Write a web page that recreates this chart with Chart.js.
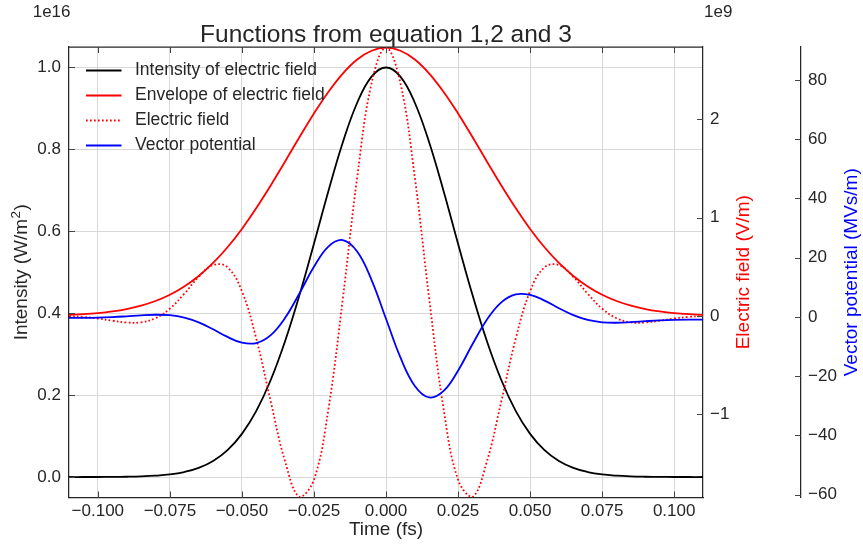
<!DOCTYPE html>
<html>
<head>
<meta charset="utf-8">
<style>
  html, body { margin: 0; padding: 0; background: #ffffff; }
  canvas { display: block; }
</style>
<script src="https://cdn.jsdelivr.net/npm/chart.js@4.4.1/dist/chart.umd.min.js"></script>
</head>
<body>
<canvas id="c" width="863" height="545"></canvas>
<script>
// ---------------- data ----------------
const time = [-0.110, -0.105, -0.100, -0.095, -0.090, -0.085, -0.080, -0.075, -0.070, -0.065,
              -0.060, -0.055, -0.050, -0.045, -0.040, -0.035, -0.030, -0.025, -0.020, -0.015,
              -0.010, -0.005, 0.000, 0.005, 0.010, 0.015, 0.020, 0.025, 0.030, 0.035,
              0.040, 0.045, 0.050, 0.055, 0.060, 0.065, 0.070, 0.075, 0.080, 0.085,
              0.090, 0.095, 0.100, 0.105, 0.110];

// Intensity, units of 1e16 W/m^2
const intensity = [0.0000, 0.0000, 0.0001, 0.0003, 0.0007, 0.0015, 0.0032, 0.0063, 0.0122, 0.0223,
                   0.0392, 0.0657, 0.1054, 0.1616, 0.2369, 0.3321, 0.4449, 0.5698, 0.6977, 0.8167,
                   0.9139, 0.9778, 1.0000, 0.9778, 0.9139, 0.8167, 0.6977, 0.5698, 0.4449, 0.3321,
                   0.2369, 0.1616, 0.1054, 0.0657, 0.0392, 0.0223, 0.0122, 0.0063, 0.0032, 0.0015,
                   0.0007, 0.0003, 0.0001, 0.0000, 0.0000];

// Envelope of electric field, units of 1e9 V/m
const envelope = [0.012, 0.019, 0.030, 0.047, 0.071, 0.106, 0.153, 0.217, 0.301, 0.408,
                  0.540, 0.700, 0.886, 1.098, 1.329, 1.573, 1.821, 2.061, 2.280, 2.467,
                  2.610, 2.699, 2.730, 2.699, 2.610, 2.467, 2.280, 2.061, 1.821, 1.573,
                  1.329, 1.098, 0.886, 0.700, 0.540, 0.408, 0.301, 0.217, 0.153, 0.106,
                  0.071, 0.047, 0.030, 0.019, 0.012];

// Electric field, units of 1e9 V/m
const efield = [0.000, -0.009, -0.025, -0.047, -0.065, -0.064, -0.022, 0.075, 0.227, 0.398,
                0.519, 0.496, 0.252, -0.231, -0.869, -1.480, -1.840, -1.665, -0.949, 0.174,
                1.410, 2.369, 2.730, 2.369, 1.410, 0.174, -0.949, -1.665, -1.840, -1.480,
                -0.869, -0.231, 0.252, 0.496, 0.519, 0.398, 0.227, 0.075, -0.022, -0.064,
                -0.065, -0.047, -0.025, -0.009, 0.000];

// Vector potential, MVs/m
const vpot = [-0.37, -0.36, -0.28, -0.10, 0.18, 0.50, 0.70, 0.54, -0.25, -1.86,
              -4.20, -6.79, -8.73, -8.86, -6.18, -0.33, 7.98, 16.88, 23.72, 25.91,
              22.03, 12.42, -0.65, -13.72, -23.33, -27.21, -25.02, -18.18, -9.28, -0.97,
              4.88, 7.56, 7.43, 5.49, 2.90, 0.56, -1.05, -1.84, -2.00, -1.80,
              -1.48, -1.20, -1.02, -0.94, -0.93];

// ticks
const xTicks = [-0.100, -0.075, -0.050, -0.025, 0.000, 0.025, 0.050, 0.075, 0.100];
const xTickLabels = ['\u22120.100', '\u22120.075', '\u22120.050', '\u22120.025', '0.000', '0.025', '0.050', '0.075', '0.100'];
const yTicks = [0.0, 0.2, 0.4, 0.6, 0.8, 1.0];
const yTickLabels = ['0.0', '0.2', '0.4', '0.6', '0.8', '1.0'];
const eTicks = [-1, 0, 1, 2];
const eTickLabels = ['\u22121', '0', '1', '2'];
const aTicks = [-60, -40, -20, 0, 20, 40, 60, 80];
const aTickLabels = ['\u221260', '\u221240', '\u221220', '0', '20', '40', '60', '80'];

const seriesLabels = ['Intensity of electric field', 'Envelope of electric field', 'Electric field', 'Vector potential'];

// ---------------- styling ----------------
const FONT = '"Liberation Sans", Arial, Helvetica, sans-serif';
const TXT = '#262626';
const SPINE = '#262626';
const GRID = '#d8d8d8';
const TL = 6;
const LW = 1.8;

function pts(ys) { return time.map((t, i) => ({x: t, y: ys[i]})); }

const decor = {
  id: 'decor',
  afterDraw(chart) {
    const ctx = chart.ctx;
    const a = chart.chartArea;
    const {x, y, yE, yA} = chart.scales;
    ctx.save();
    // top spine
    ctx.strokeStyle = SPINE;
    ctx.lineWidth = 1.25;
    ctx.beginPath();
    ctx.moveTo(a.left, a.top); ctx.lineTo(a.right, a.top);
    ctx.stroke();
    // inward tick marks
    ctx.strokeStyle = '#444444';
    ctx.lineWidth = 1;
    ctx.beginPath();
    xTicks.forEach(v => {
      const px = Math.round(x.getPixelForValue(v)) + 0.5;
      ctx.moveTo(px, a.bottom); ctx.lineTo(px, a.bottom - TL);
      ctx.moveTo(px, a.top); ctx.lineTo(px, a.top + TL);
    });
    yTicks.forEach(v => {
      const py = Math.round(y.getPixelForValue(v)) + 0.5;
      ctx.moveTo(a.left, py); ctx.lineTo(a.left + TL, py);
    });
    eTicks.forEach(v => {
      const py = Math.round(yE.getPixelForValue(v)) + 0.5;
      ctx.moveTo(a.right, py); ctx.lineTo(a.right - TL, py);
    });
    aTicks.forEach(v => {
      const py = Math.round(yA.getPixelForValue(v)) + 0.5;
      ctx.moveTo(yA.left, py); ctx.lineTo(yA.left - TL, py);
    });
    ctx.stroke();

    // title
    ctx.fillStyle = TXT;
    ctx.font = '24.5px ' + FONT;
    ctx.textAlign = 'center';
    ctx.textBaseline = 'alphabetic';
    ctx.fillText('Functions from equation 1,2 and 3', (a.left + a.right) / 2, 41.5);

    // offset texts
    ctx.font = '17px ' + FONT;
    ctx.textAlign = 'right';
    ctx.fillText('1e16', a.left + 1.5, 17);
    ctx.textAlign = 'left';
    ctx.fillText('1e9', a.right + 1, 17);

    // axis titles
    const midY = (a.top + a.bottom) / 2;
    ctx.font = '19px ' + FONT;
    ctx.textAlign = 'center';
    ctx.fillText('Time (fs)', (a.left + a.right) / 2, 535);

    function vtext(txt, bx, color) {
      ctx.save();
      ctx.fillStyle = color;
      ctx.translate(bx, midY);
      ctx.rotate(-Math.PI / 2);
      ctx.textAlign = 'center';
      ctx.textBaseline = 'alphabetic';
      ctx.fillText(txt, 0, 0);
      ctx.restore();
    }
    // Intensity label with a real superscript
    ctx.save();
    ctx.fillStyle = TXT;
    ctx.translate(27, midY);
    ctx.rotate(-Math.PI / 2);
    ctx.textAlign = 'left';
    ctx.textBaseline = 'alphabetic';
    const p1 = 'Intensity (W/m', p2 = '2', p3 = ')';
    ctx.font = '19px ' + FONT;
    const w1 = ctx.measureText(p1).width, w3 = ctx.measureText(p3).width;
    ctx.font = '13.5px ' + FONT;
    const w2 = ctx.measureText(p2).width;
    let sx = -(w1 + w2 + w3 + 1) / 2;
    ctx.font = '19px ' + FONT;
    ctx.fillText(p1, sx, 0);
    ctx.font = '13.5px ' + FONT;
    ctx.fillText(p2, sx + w1 + 0.5, -7.5);
    ctx.font = '19px ' + FONT;
    ctx.fillText(p3, sx + w1 + w2 + 1, 0);
    ctx.restore();

    vtext('Electric field (V/m)', 749, '#ff0000');
    vtext('Vector potential (MVs/m)', 856.5, '#0000ff');

    // legend
    ctx.font = '17.5px ' + FONT;
    ctx.textAlign = 'left';
    ctx.textBaseline = 'middle';
    const ds = chart.data.datasets;
    ds.forEach((d, i) => {
      const yy = Math.round(a.top + 22.5 + i * 25) + 0.5;
      ctx.strokeStyle = d.borderColor;
      ctx.lineWidth = d.borderWidth;
      ctx.setLineDash(d.borderDash || []);
      ctx.beginPath();
      ctx.moveTo(a.left + 17, yy); ctx.lineTo(a.left + 52.5, yy);
      ctx.stroke();
      ctx.setLineDash([]);
      ctx.fillStyle = TXT;
      ctx.fillText(d.label, a.left + 66, yy);
    });
    ctx.restore();
  }
};

const tickFont = {family: FONT, size: 17};

new Chart(document.getElementById('c'), {
  type: 'line',
  data: {
    datasets: [
      {label: seriesLabels[0], data: pts(intensity), yAxisID: 'y', borderColor: '#000000', borderWidth: LW, tension: 0.4, pointRadius: 0, fill: false, order: 4},
      {label: seriesLabels[1], data: pts(envelope), yAxisID: 'yE', borderColor: '#ff0000', borderWidth: LW, tension: 0.4, pointRadius: 0, fill: false, order: 3},
      {label: seriesLabels[2], data: pts(efield), yAxisID: 'yE', borderColor: '#ff0000', borderWidth: LW, borderDash: [1.7, 2.3], tension: 0.4, pointRadius: 0, fill: false, order: 2},
      {label: seriesLabels[3], data: pts(vpot), yAxisID: 'yA', borderColor: '#0000ff', borderWidth: LW, tension: 0.4, pointRadius: 0, fill: false, order: 1}
    ]
  },
  options: {
    responsive: false,
    animation: false,
    devicePixelRatio: 1,
    layout: {padding: {top: 47, left: 0, right: 0, bottom: 0}},
    plugins: {legend: {display: false}, title: {display: false}, tooltip: {enabled: false}},
    scales: {
      x: {
        type: 'linear', position: 'bottom', min: -0.11, max: 0.11,
        afterBuildTicks: s => { s.ticks = xTicks.map(v => ({value: v})); },
        afterFit: s => { s.height = 47.5; },
        ticks: {autoSkip: false, maxRotation: 0, padding: 4, color: TXT, font: tickFont,
                callback: (v, i) => xTickLabels[i]},
        grid: {color: GRID, lineWidth: 1, drawTicks: false},
        border: {display: true, color: SPINE, width: 1.25}
      },
      y: {
        type: 'linear', position: 'left', min: -0.05, max: 1.05,
        afterBuildTicks: s => { s.ticks = yTicks.map(v => ({value: v})); },
        afterFit: s => { s.width = 69; },
        ticks: {autoSkip: false, padding: 8, color: TXT, font: tickFont,
                callback: (v, i) => yTickLabels[i]},
        grid: {color: GRID, lineWidth: 1, drawTicks: false},
        border: {display: true, color: SPINE, width: 1.25}
      },
      yE: {
        type: 'linear', position: 'right', weight: 0, min: -1.846, max: 2.737,
        afterBuildTicks: s => { s.ticks = eTicks.map(v => ({value: v})); },
        afterFit: s => { s.width = 98; },
        ticks: {autoSkip: false, padding: 7, color: TXT, font: tickFont,
                callback: (v, i) => eTickLabels[i]},
        grid: {drawOnChartArea: false, drawTicks: false},
        border: {display: true, color: SPINE, width: 1.25}
      },
      yA: {
        type: 'linear', position: 'right', weight: 1, min: -61, max: 91.1,
        afterBuildTicks: s => { s.ticks = aTicks.map(v => ({value: v})); },
        afterFit: s => { s.width = 62; },
        ticks: {autoSkip: false, padding: 7, color: TXT, font: tickFont,
                callback: (v, i) => aTickLabels[i]},
        grid: {drawOnChartArea: false, drawTicks: false},
        border: {display: true, color: SPINE, width: 1.25}
      }
    }
  },
  plugins: [decor]
});
</script>
</body>
</html>
